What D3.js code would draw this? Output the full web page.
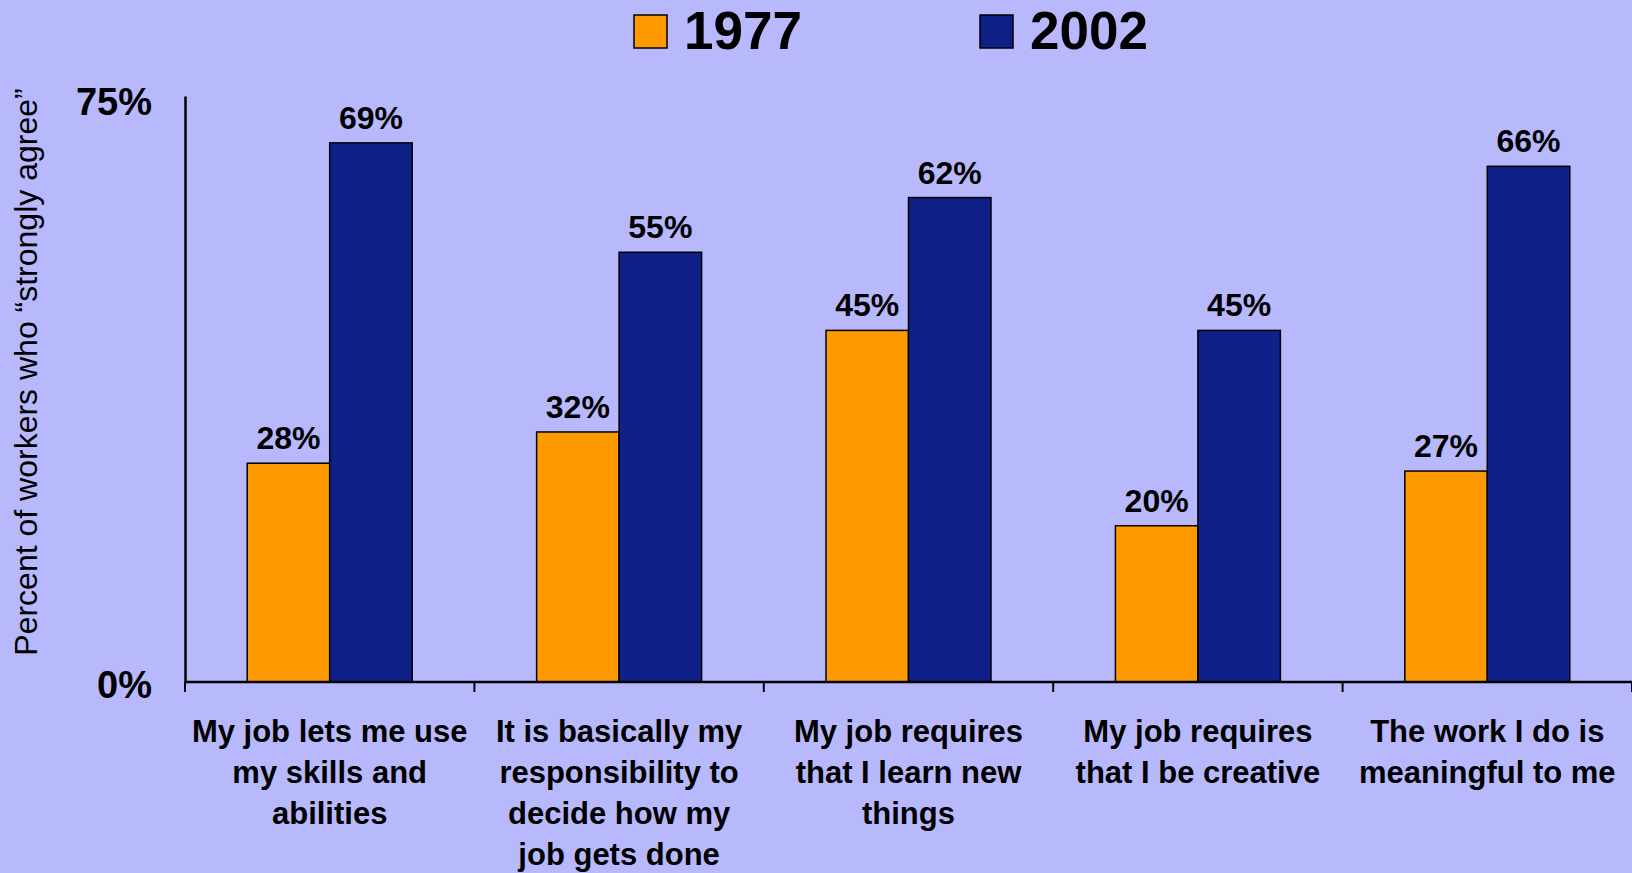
<!DOCTYPE html>
<html>
<head>
<meta charset="utf-8">
<script src="https://cdn.jsdelivr.net/npm/d3@7"></script>
<style>
  html, body { margin: 0; padding: 0; background: #b8b8fc; }
  svg { display: block; }
  text { font-family: "Liberation Sans", Arial, sans-serif; fill: #000; }
</style>
</head>
<body>
<svg id="chart" width="1632" height="873"></svg>
<script>
// Survey statements (one label line per array entry)
const categories = [
  ["My job lets me use", "my skills and", "abilities"],
  ["It is basically my", "responsibility to", "decide how my", "job gets done"],
  ["My job requires", "that I learn new", "things"],
  ["My job requires", "that I be creative"],
  ["The work I do is", "meaningful to me"]
];
const seriesNames = ["1977", "2002"];
const values1977 = [28, 32, 45, 20, 27];
const values2002 = [69, 55, 62, 45, 66];
const yTicks = [0, 75];
const colors = ["#ff9900", "#0f2088"];

const svg = d3.select("#chart");
const plot = { left: 185, right: 1632, top: 96, bottom: 682 };

const catKeys = categories.map((c, i) => i);
const x0 = d3.scaleBand().domain(catKeys).range([plot.left, plot.right]).padding(0);
const bw = x0.bandwidth();
const x1 = d3.scaleBand().domain(seriesNames).range([bw * 0.215, bw * 0.785]).padding(0);
const y = d3.scaleLinear().domain([0, 75]).range([plot.bottom, plot.top]);

const data = catKeys.map(i => ({
  i,
  vals: [
    { s: "1977", v: values1977[i] },
    { s: "2002", v: values2002[i] }
  ]
}));

// Bars
const groups = svg.append("g").selectAll("g").data(data).join("g")
  .attr("transform", d => `translate(${x0(d.i)},0)`);

groups.selectAll("rect").data(d => d.vals).join("rect")
  .attr("x", d => x1(d.s))
  .attr("y", d => y(d.v))
  .attr("width", x1.bandwidth())
  .attr("height", d => y(0) - y(d.v))
  .attr("fill", d => colors[seriesNames.indexOf(d.s)])
  .attr("stroke", "#000")
  .attr("stroke-width", 1.5);

// Value labels
groups.selectAll("text.val").data(d => d.vals).join("text")
  .attr("class", "val")
  .attr("x", d => x1(d.s) + x1.bandwidth() / 2)
  .attr("y", d => y(d.v) - 14)
  .attr("text-anchor", "middle")
  .attr("font-size", 32)
  .attr("font-weight", "bold")
  .text(d => d.v + "%");

// Y axis
const yAxis = d3.axisLeft(y).tickValues(yTicks).tickSize(0).tickPadding(33)
  .tickFormat(d => d + "%");
const gy = svg.append("g").attr("transform", `translate(${plot.left},0)`).call(yAxis);
gy.select(".domain").attr("stroke", "#000").attr("stroke-width", 2.5);
gy.selectAll("text")
  .attr("font-size", 38).attr("font-weight", "bold")
  .attr("dy", d => d === 75 ? 18 : 15)
  .attr("font-family", "Liberation Sans, Arial, sans-serif").attr("fill", "#000");

// X axis with tick marks at category boundaries
const boundaries = catKeys.map(i => x0(i)).concat([plot.right]);
svg.append("line")
  .attr("x1", plot.left).attr("x2", plot.right)
  .attr("y1", plot.bottom).attr("y2", plot.bottom)
  .attr("stroke", "#000").attr("stroke-width", 2.5);
svg.append("g").selectAll("line").data(boundaries).join("line")
  .attr("x1", d => d).attr("x2", d => d)
  .attr("y1", plot.bottom).attr("y2", plot.bottom + 10)
  .attr("stroke", "#000").attr("stroke-width", 2);

// Category labels
const lab = svg.append("g").selectAll("text").data(data).join("text")
  .attr("x", d => x0(d.i) + bw / 2)
  .attr("y", 742)
  .attr("text-anchor", "middle")
  .attr("font-size", 31)
  .attr("font-weight", "bold");
lab.selectAll("tspan").data(d => categories[d.i]).join("tspan")
  .attr("x", function () { return d3.select(this.parentNode).attr("x"); })
  .attr("dy", (d, k) => k === 0 ? 0 : 41)
  .text(d => d);

// Y axis title
svg.append("text")
  .attr("transform", `translate(37,372) rotate(-90)`)
  .attr("text-anchor", "middle")
  .attr("font-size", 32)
  .text("Percent of workers who \u201cstrongly agree\u201d");

// Legend
const legendX = [634, 980];
const leg = svg.append("g").selectAll("g").data(seriesNames).join("g")
  .attr("transform", (d, k) => `translate(${legendX[k]},15)`);
leg.append("rect")
  .attr("width", 33).attr("height", 33)
  .attr("fill", (d, k) => colors[k])
  .attr("stroke", "#000").attr("stroke-width", 1.5);
leg.append("text")
  .attr("x", 50).attr("y", 34)
  .attr("font-size", 53).attr("font-weight", "bold")
  .text(d => d);
</script>
</body>
</html>
